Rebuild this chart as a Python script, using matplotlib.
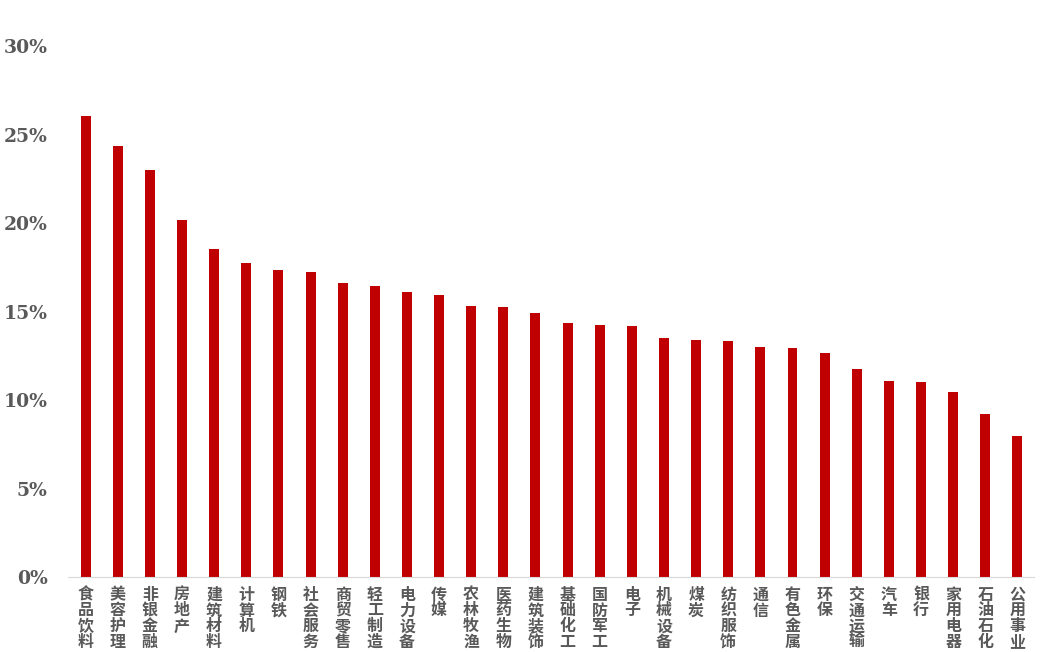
import matplotlib
matplotlib.use("Agg")
import matplotlib.pyplot as plt
from matplotlib.ticker import FuncFormatter

industries = ["食品饮料", "美容护理", "非银金融", "房地产", "建筑材料", "计算机", "钢铁",
              "社会服务", "商贸零售", "轻工制造", "电力设备", "传媒", "农林牧渔", "医药生物",
              "建筑装饰", "基础化工", "国防军工", "电子", "机械设备", "煤炭", "纺织服饰",
              "通信", "有色金属", "环保", "交通运输", "汽车", "银行", "家用电器",
              "石油石化", "公用事业"]
values = [26.05, 24.35, 23.0, 20.17, 18.53, 17.74, 17.34, 17.23, 16.61, 16.44,
          16.10, 15.93, 15.31, 15.25, 14.92, 14.35, 14.24, 14.18, 13.50, 13.39,
          13.35, 12.99, 12.94, 12.66, 11.75, 11.07, 11.02, 10.45, 9.21, 7.97]

fig = plt.figure(figsize=(10.45, 6.52), dpi=100)
ax = fig.add_axes([0.065, 0.115, 0.924, 0.814])

x = range(len(industries))
ax.bar(x, values, width=0.31, color="#C00000")

ax.set_ylim(0, 30)
ax.set_xlim(-0.55, len(industries) - 0.5)
ax.set_yticks(range(0, 31, 5))
ax.yaxis.set_major_formatter(FuncFormatter(lambda v, p: f"{v:.0f}%"))
for lab in ax.get_yticklabels():
    lab.set_fontfamily("DejaVu Serif")
    lab.set_fontweight("bold")
    lab.set_fontsize(13.5)
    lab.set_color("#595959")

ax.set_xticks(list(x))
ax.set_xticklabels(["\n".join(s) for s in industries], fontfamily="Noto Sans CJK SC",
                   fontweight="heavy", fontsize=11.5, color="#595959", linespacing=0.98,
                   va="top")
ax.tick_params(axis="both", length=0)
ax.tick_params(axis="x", pad=7)
ax.tick_params(axis="y", pad=14.5)

for s in ["top", "right", "left"]:
    ax.spines[s].set_visible(False)
ax.spines["bottom"].set_color("#d9d9d9")

fig.savefig("out.png", dpi=100)
